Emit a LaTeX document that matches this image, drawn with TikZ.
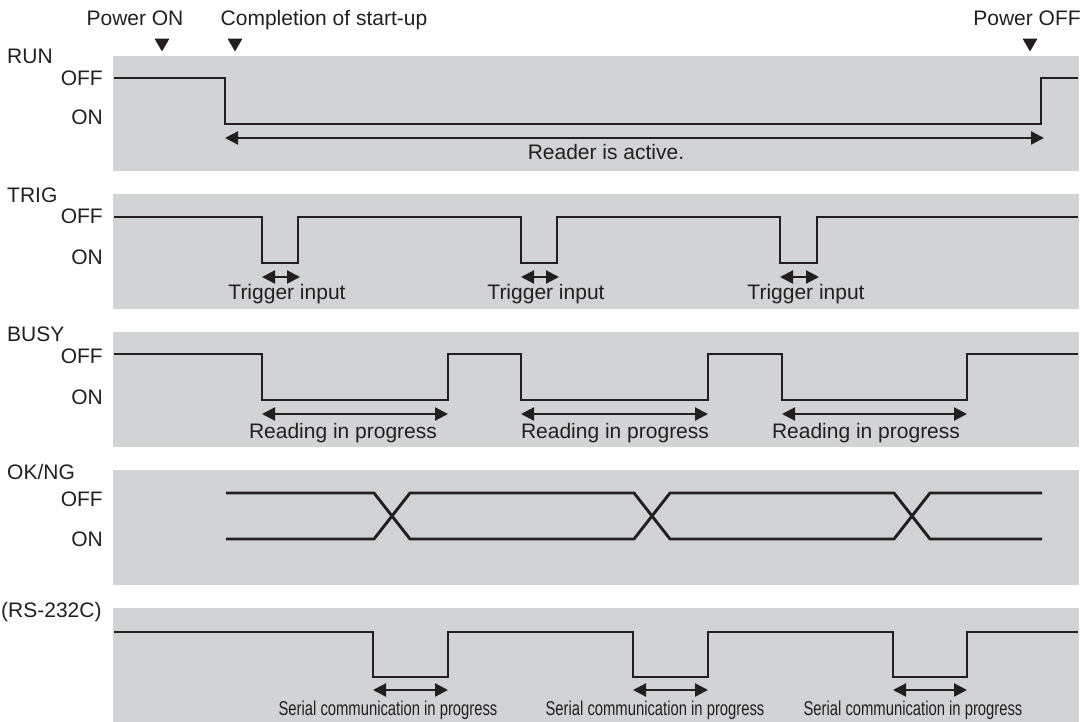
\documentclass[tikz,border=0pt]{standalone}
\usepackage{fontspec}
\setmainfont{Liberation Sans}
\newfontfamily\narrowsans[FakeStretch=0.74]{Liberation Sans}
\usetikzlibrary{arrows.meta,shapes.geometric}
\definecolor{panelgray}{RGB}{209,211,212}
\definecolor{inkblack}{RGB}{35,31,32}

\begin{document}
\begin{tikzpicture}[x=1pt,y=-1pt,
  font=\fontsize{21}{25}\selectfont,
  every node/.style={inner sep=0pt, text=inkblack},
  wave/.style={line width=2.9pt, draw=inkblack, line join=miter},
  span/.style={line width=2.2pt, draw=inkblack,
    {Triangle[length=13pt,width=13pt]}-{Triangle[length=13pt,width=13pt]}},
  marker/.style={regular polygon, regular polygon sides=3, shape border rotate=180,
    fill=inkblack, minimum size=17pt},
  serialtxt/.style={font=\narrowsans\fontsize{20}{24}\selectfont}]
  \useasboundingbox (0,0) rectangle (1092,722);

  % Panels
  \fill[panelgray] (113,56) rectangle (1079,171);
  \fill[panelgray] (113,194) rectangle (1079,309);
  \fill[panelgray] (113,332) rectangle (1079,447);
  \fill[panelgray] (113,470) rectangle (1079,585);
  \fill[panelgray] (113,608) rectangle (1079,722);

  % Events
  \node[anchor=base] (pwrontxt) at (135,26) {Power ON};
  \node[anchor=base] (startuptxt) at (324,26) {Completion of start-up};
  \node[anchor=base] (pwrofftxt) at (1027,26) {Power OFF};
  \node[marker] (pwron) at (162,43) {};
  \node[marker] (startup) at (235,43) {};
  \node[marker] (pwroff) at (1030,43) {};

  % Signal names
  \node[anchor=base west] (run) at (7,64) {RUN};
  \node[anchor=base west] (trig) at (7,203) {TRIG};
  \node[anchor=base west] (busy) at (7,341) {BUSY};
  \node[anchor=base west] (okng) at (7,479) {OK/NG};
  \node[anchor=base west] (rs) at (1,617) {(RS-232C)};

  % Levels
  \node[anchor=base east] (runoff) at (103,86) {OFF};
  \node[anchor=base east] (runon) at (103,125) {ON};
  \node[anchor=base east] (trigoff) at (103,224) {OFF};
  \node[anchor=base east] (trigon) at (103,264) {ON};
  \node[anchor=base east] (busyoff) at (103,363) {OFF};
  \node[anchor=base east] (busyon) at (103,404) {ON};
  \node[anchor=base east] (okngoff) at (103,506) {OFF};
  \node[anchor=base east] (okngon) at (103,546) {ON};

  % RUN
  \draw[wave] (114,78) -- (225,78) -- (225,124) -- (1041,124) -- (1041,78) -- (1078,78);
  \coordinate (runL) at (225,138);
  \coordinate (runR) at (1044,138);
  \draw[span] (runL) -- (runR);
  \node[anchor=base] (runtxt) at (606,160) {Reader is active.};

  % TRIG
  \draw[wave] (114,217) -- (262,217) -- (262,263) -- (298,263) -- (298,217)
    -- (521,217) -- (521,263) -- (557,263) -- (557,217)
    -- (780,217) -- (780,263) -- (817,263) -- (817,217) -- (1078,217);
  \coordinate (trigAL) at (262,277);
  \coordinate (trigAR) at (300,277);
  \coordinate (trigBL) at (521,277);
  \coordinate (trigBR) at (559,277);
  \coordinate (trigCL) at (780,277);
  \coordinate (trigCR) at (819,277);
  \draw[span] (trigAL) -- (trigAR);
  \draw[span] (trigBL) -- (trigBR);
  \draw[span] (trigCL) -- (trigCR);
  \node[anchor=base] (trigA) at (287,299) {Trigger input};
  \node[anchor=base] (trigB) at (546,299) {Trigger input};
  \node[anchor=base] (trigC) at (806,299) {Trigger input};

  % BUSY
  \draw[wave] (114,354) -- (262,354) -- (262,400) -- (448,400) -- (448,354)
    -- (521,354) -- (521,400) -- (708,400) -- (708,354)
    -- (782,354) -- (782,400) -- (967,400) -- (967,354) -- (1078,354);
  \coordinate (busyAL) at (262,414);
  \coordinate (busyAR) at (448,414);
  \coordinate (busyBL) at (521,414);
  \coordinate (busyBR) at (708,414);
  \coordinate (busyCL) at (782,414);
  \coordinate (busyCR) at (967,414);
  \draw[span] (busyAL) -- (busyAR);
  \draw[span] (busyBL) -- (busyBR);
  \draw[span] (busyCL) -- (busyCR);
  \node[anchor=base] (busyA) at (343,438) {Reading in progress};
  \node[anchor=base] (busyB) at (615,438) {Reading in progress};
  \node[anchor=base] (busyC) at (866,438) {Reading in progress};

  % OK/NG
  \draw[wave] (226,493) -- (374,493) -- (410,539) -- (634,539) -- (670,493)
    -- (894,493) -- (930,539) -- (1042,539);
  \draw[wave] (226,539) -- (374,539) -- (410,493) -- (634,493) -- (670,539)
    -- (894,539) -- (930,493) -- (1042,493);

  % RS-232C
  \draw[wave] (114,632) -- (373,632) -- (373,677) -- (448,677) -- (448,632)
    -- (633,632) -- (633,677) -- (708,677) -- (708,632)
    -- (893,632) -- (893,677) -- (967,677) -- (967,632) -- (1078,632);
  \coordinate (rsAL) at (373,690);
  \coordinate (rsAR) at (448,690);
  \coordinate (rsBL) at (633,690);
  \coordinate (rsBR) at (708,690);
  \coordinate (rsCL) at (893,690);
  \coordinate (rsCR) at (967,690);
  \draw[span] (rsAL) -- (rsAR);
  \draw[span] (rsBL) -- (rsBR);
  \draw[span] (rsCL) -- (rsCR);
  \node[anchor=base, serialtxt] (rsA) at (388,715) {Serial communication in progress};
  \node[anchor=base, serialtxt] (rsB) at (655,715) {Serial communication in progress};
  \node[anchor=base, serialtxt] (rsC) at (913,715) {Serial communication in progress};
\end{tikzpicture}
\end{document}
